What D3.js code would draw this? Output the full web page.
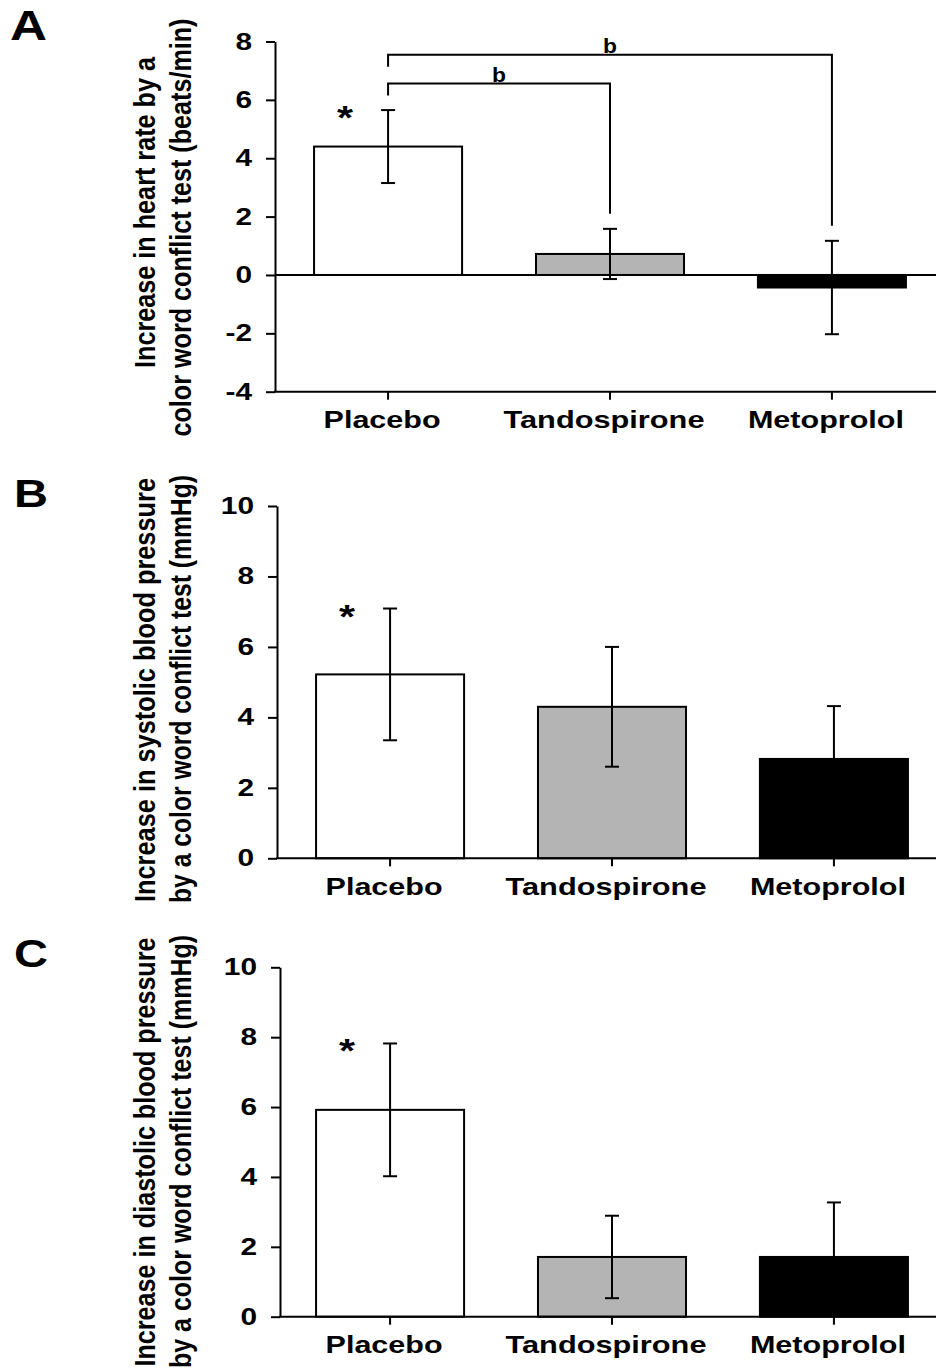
<!DOCTYPE html>
<html>
<head>
<meta charset="utf-8">
<script src="https://cdn.jsdelivr.net/npm/d3@7"></script>
<style>
  html, body { margin: 0; padding: 0; background: #fff; }
  svg { display: block; }
  text { font-family: "Liberation Sans", Arial, sans-serif; font-weight: bold; fill: #000; }
</style>
</head>
<body>
<svg id="chart" width="936" height="1371"></svg>
<script>
// ---------------- DATA ----------------
const categories = ["Placebo", "Tandospirone", "Metoprolol"];
const barFills = ["#ffffff", "#b4b4b4", "#000000"];

const hrMean = [4.4, 0.72, -0.43];
const hrSem  = [1.25, 0.86, 1.6];
const sbpMean = [5.22, 4.3, 2.82];
const sbpSem  = [1.87, 1.7, 1.5];
const dbpMean = [5.92, 1.71, 1.71];
const dbpSem  = [1.9, 1.18, 1.56];

const hrTicks = [-4, -2, 0, 2, 4, 6, 8];
const bpTicks = [0, 2, 4, 6, 8, 10];

const starCategories = ["Placebo"];
const hrBrackets = [
  { from: "Placebo", to: "Tandospirone", label: "b", level: 6.56 },
  { from: "Placebo", to: "Metoprolol",   label: "b", level: 7.55 }
];

// ---------------- LAYOUT ----------------
const panels = [
  { letter: "A", mean: hrMean, sem: hrSem, ticks: hrTicks, domain: [-4, 8],
    axisX: 275, bandX0: 275, yTop: 41.5, yBot: 391.7, brackets: hrBrackets,
    letterPos: { x: 10, y: 40, size: 42, w: 37 },
    title: [ { text: "Increase in heart rate by a", x: 155, y: 212.5, len: 311 },
             { text: "color word conflict test (beats/min)", x: 191, y: 227.5, len: 418 } ] },
  { letter: "B", mean: sbpMean, sem: sbpSem, ticks: bpTicks, domain: [0, 10],
    axisX: 277, bandX0: 277, yTop: 506, yBot: 858.3, brackets: [],
    letterPos: { x: 14, y: 507, size: 38, w: 34 },
    title: [ { text: "Increase in systolic blood pressure", x: 155, y: 690, len: 424 },
             { text: "by a color word conflict test (mmHg)", x: 191, y: 689, len: 428 } ] },
  { letter: "C", mean: dbpMean, sem: dbpSem, ticks: bpTicks, domain: [0, 10],
    axisX: 280, bandX0: 277, yTop: 967.3, yBot: 1316.7, brackets: [],
    letterPos: { x: 14, y: 967, size: 38, w: 34 },
    title: [ { text: "Increase in diastolic blood pressure", x: 155, y: 1152, len: 429 },
             { text: "by a color word conflict test (mmHg)", x: 191, y: 1151.5, len: 433 } ] }
];

const xLabelWidths = { "Placebo": 117, "Tandospirone": 201, "Metoprolol": 156 };
const rightEdge = 936;
const stroke = 2;

const svg = d3.select("#chart");

panels.forEach(p => {
  const g = svg.append("g");
  const x = d3.scaleBand().domain(categories)
    .range([p.bandX0, p.bandX0 + 670]).paddingInner(0.333).paddingOuter(0.176);
  const y = d3.scaleLinear().domain(p.domain).range([p.yBot, p.yTop]);
  const cx = c => x(c) + x.bandwidth() / 2;

  // Panel letter
  g.append("text").attr("x", p.letterPos.x).attr("y", p.letterPos.y)
    .style("font-size", p.letterPos.size + "px")
    .attr("textLength", p.letterPos.w).attr("lengthAdjust", "spacingAndGlyphs")
    .text(p.letter);

  // Y title (two rotated lines, glyphs widened across the line)
  p.title.forEach(t => {
    g.append("text")
      .attr("transform", `translate(${t.x},${t.y}) rotate(-90) scale(1,1.2)`)
      .attr("text-anchor", "middle")
      .style("font-size", "25px")
      .attr("textLength", t.len).attr("lengthAdjust", "spacingAndGlyphs")
      .text(t.text);
  });

  // Bars
  g.selectAll("rect.bar").data(categories).enter().append("rect")
    .attr("x", c => x(c))
    .attr("width", x.bandwidth())
    .attr("y", (c, i) => y(Math.max(0, p.mean[i])))
    .attr("height", (c, i) => Math.abs(y(p.mean[i]) - y(0)))
    .attr("fill", (c, i) => barFills[i])
    .attr("stroke", "#000").attr("stroke-width", stroke);

  // Zero line (for panels with negative domain)
  if (p.domain[0] < 0) {
    g.append("line").attr("x1", p.axisX).attr("x2", rightEdge)
      .attr("y1", y(0)).attr("y2", y(0))
      .attr("stroke", "#000").attr("stroke-width", stroke);
  }

  // Error bars
  categories.forEach((c, i) => {
    const lo = y(p.mean[i] - p.sem[i]), hi = y(p.mean[i] + p.sem[i]);
    const xc = cx(c);
    g.append("line").attr("x1", xc).attr("x2", xc).attr("y1", lo).attr("y2", hi)
      .attr("stroke", "#000").attr("stroke-width", stroke);
    [lo, hi].forEach(yy => g.append("line").attr("x1", xc - 7).attr("x2", xc + 7)
      .attr("y1", yy).attr("y2", yy).attr("stroke", "#000").attr("stroke-width", stroke));
  });

  // Asterisks
  starCategories.forEach(c => {
    const i = categories.indexOf(c);
    const capY = y(p.mean[i] + p.sem[i]);
    g.append("text").attr("x", cx(c) - 43).attr("y", capY + 5 + 14)
      .attr("text-anchor", "middle").style("font-size", "34px")
      .attr("textLength", 16).attr("lengthAdjust", "spacingAndGlyphs")
      .text("*");
  });

  // Significance brackets
  p.brackets.forEach(b => {
    const i2 = categories.indexOf(b.to);
    const yl = y(b.level);
    const x1 = cx(b.from), x2 = cx(b.to);
    const endY = y(p.mean[i2] + p.sem[i2]) - 15;
    g.append("path")
      .attr("d", `M${x1},${yl + 12} V${yl} H${x2} V${endY}`)
      .attr("fill", "none").attr("stroke", "#000").attr("stroke-width", stroke);
    g.append("text").attr("x", (x1 + x2) / 2).attr("y", yl - 2)
      .attr("text-anchor", "middle").style("font-size", "20px")
      .attr("textLength", 14).attr("lengthAdjust", "spacingAndGlyphs")
      .text(b.label);
  });

  // Y axis
  const yAxis = d3.axisLeft(y).tickValues(p.ticks).tickFormat(d => String(d))
    .tickSize(9).tickSizeOuter(0).tickPadding(14);
  const ya = g.append("g").attr("transform", `translate(${p.axisX},0)`).call(yAxis);
  ya.select(".domain").attr("stroke", "#000").attr("stroke-width", stroke);
  ya.selectAll(".tick line").attr("stroke", "#000").attr("stroke-width", stroke);
  ya.selectAll(".tick text")
    .attr("font-family", null).attr("font-size", null)
    .style("font-size", "23.5px")
    .each(function () {
      const w = this.getComputedTextLength();
      d3.select(this).attr("textLength", w * 1.27).attr("lengthAdjust", "spacingAndGlyphs");
    });

  // X axis
  g.append("line").attr("x1", p.axisX - 1).attr("x2", rightEdge)
    .attr("y1", p.yBot).attr("y2", p.yBot)
    .attr("stroke", "#000").attr("stroke-width", stroke);
  g.selectAll("line.xtick").data(categories).enter().append("line")
    .attr("x1", c => cx(c)).attr("x2", c => cx(c))
    .attr("y1", p.yBot).attr("y2", p.yBot + 8)
    .attr("stroke", "#000").attr("stroke-width", stroke);
  g.selectAll("text.xlab").data(categories).enter().append("text")
    .attr("x", c => cx(c) - 6).attr("y", p.yBot + 36.5)
    .attr("text-anchor", "middle").style("font-size", "24px")
    .attr("textLength", c => xLabelWidths[c]).attr("lengthAdjust", "spacingAndGlyphs")
    .text(c => c);
});
</script>
</body>
</html>
